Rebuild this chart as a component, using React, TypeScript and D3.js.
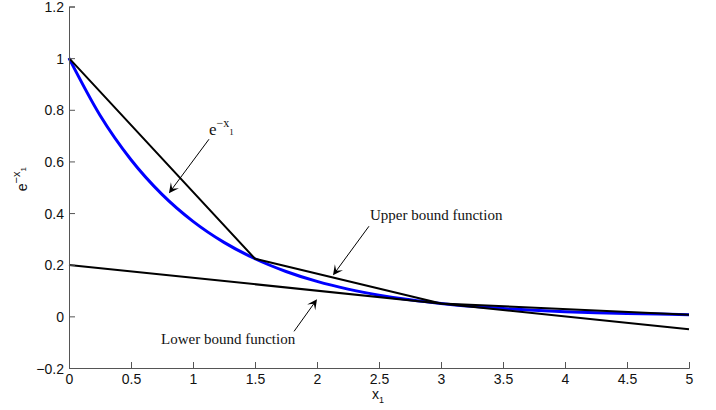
import React, { useEffect, useRef } from "react";
import * as d3 from "d3";

// e^{-x1} samples
const curveX = [0, 0.25, 0.5, 0.75, 1, 1.25, 1.5, 1.75, 2, 2.25, 2.5, 2.75, 3, 3.25, 3.5, 3.75, 4, 4.25, 4.5, 4.75, 5];
const curveY = [1, 0.7788, 0.6065, 0.4724, 0.3679, 0.2865, 0.2231, 0.1738, 0.1353, 0.1054, 0.0821, 0.0639, 0.0498, 0.0388, 0.0302, 0.0235, 0.0183, 0.0143, 0.0111, 0.0087, 0.0067];

// upper bound (piecewise linear through the break points)
const upperX = [0, 1.5, 3, 5];
const upperY = [1, 0.2231, 0.0498, 0.0067];

// lower bound (tangent at x1 = 3)
const lowerX = [0, 5];
const lowerY = [0.1991, -0.0498];

const xTicks = [0, 0.5, 1, 1.5, 2, 2.5, 3, 3.5, 4, 4.5, 5];
const yTicks = [-0.2, 0, 0.2, 0.4, 0.6, 0.8, 1, 1.2];

// annotations: text anchor and arrow from -> tip, all in data units
const annoText = ["Upper bound function", "Lower bound function"];
const annoTextPos = [[2.427, 0.372], [0.742, -0.1085]];
const arrowFrom = [[1.129, 0.686], [2.419, 0.349], [1.815, -0.058]];
const arrowTip = [[0.806, 0.477], [2.129, 0.159], [2.0, 0.066]];
const expLabelPos = [1.129, 0.7016];

export default function App() {
  const ref = useRef<SVGSVGElement>(null);

  useEffect(() => {
    const width = 716, height = 410;
    const margin = { top: 6.5, right: 27, bottom: 42, left: 69 };

    const svg = d3.select(ref.current);
    svg.selectAll("*").remove();

    const x = d3.scaleLinear().domain([0, 5]).range([margin.left, width - margin.right]);
    const y = d3.scaleLinear().domain([-0.2, 1.2]).range([height - margin.bottom, margin.top]);

    const sans = "Liberation Sans, Arial, sans-serif";
    const serif = "Liberation Serif, Times New Roman, serif";

    const line = d3.line<[number, number]>().x(d => x(d[0])).y(d => y(d[1]));

    // blue curve first, black lines on top
    svg.append("path")
      .attr("d", line.curve(d3.curveMonotoneX)(curveX.map((v, i) => [v, curveY[i]] as [number, number])))
      .attr("fill", "none")
      .attr("stroke", "#0000ff")
      .attr("stroke-width", 3);

    const straight = d3.line<[number, number]>().x(d => x(d[0])).y(d => y(d[1]));
    svg.append("path")
      .attr("d", straight(upperX.map((v, i) => [v, upperY[i]] as [number, number])))
      .attr("fill", "none")
      .attr("stroke", "#000")
      .attr("stroke-width", 2)
      .attr("stroke-linejoin", "round");
    svg.append("path")
      .attr("d", straight(lowerX.map((v, i) => [v, lowerY[i]] as [number, number])))
      .attr("fill", "none")
      .attr("stroke", "#000")
      .attr("stroke-width", 2);

    // axes (MATLAB style, no box, ticks inside)
    const xAxis = d3.axisBottom(x).tickValues(xTicks).tickSize(-6).tickPadding(6).tickFormat(d => String(d));
    const yAxis = d3.axisLeft(y).tickValues(yTicks).tickSize(-6).tickPadding(5)
      .tickFormat(d => (d as number) < 0 ? "\u2212" + String(-(d as number)) : String(d));

    const gx = svg.append("g").attr("transform", `translate(0,${y(-0.2)})`).call(xAxis);
    const gy = svg.append("g").attr("transform", `translate(${x(0)},0)`).call(yAxis);
    [gx, gy].forEach(g => {
      g.select(".domain").attr("stroke", "#555").attr("stroke-width", 1);
      g.selectAll(".tick line").attr("stroke", "#555");
      g.selectAll(".tick text").attr("fill", "#111").style("font-size", "14px").style("font-family", sans);
    });
    gy.selectAll(".tick text").attr("dy", "0.36em");

    // axis labels
    const xl = svg.append("text")
      .attr("x", x(2.5) - 7)
      .attr("y", 399)
      .style("font-family", sans)
      .style("font-size", "14px")
      .attr("fill", "#111");
    xl.append("tspan").text("x");
    xl.append("tspan").attr("dy", 4).style("font-size", "9px").text("1");

    const yl = svg.append("text")
      .attr("transform", `translate(27,${y(0.5) + 4}) rotate(-90)`)
      .style("font-family", sans)
      .style("font-size", "14px")
      .attr("fill", "#111");
    yl.append("tspan").text("e");
    yl.append("tspan").attr("dy", -7).style("font-size", "11px").text("\u2212x");
    yl.append("tspan").attr("dy", 6).style("font-size", "8px").text("1");

    // annotations
    annoText.forEach((t, i) => {
      svg.append("text")
        .attr("x", x(annoTextPos[i][0]))
        .attr("y", y(annoTextPos[i][1]))
        .style("font-family", serif)
        .style("font-size", "15px")
        .attr("fill", "#111")
        .text(t);
    });

    const el = svg.append("text")
      .attr("x", x(expLabelPos[0]))
      .attr("y", y(expLabelPos[1]))
      .style("font-family", serif)
      .style("font-size", "17px")
      .attr("fill", "#111");
    el.append("tspan").text("e");
    el.append("tspan").attr("dy", -8).style("font-size", "12px").text("\u2212x");
    el.append("tspan").attr("dy", 8).style("font-size", "9px").text("1");

    arrowFrom.forEach((f, i) => {
      const x1 = x(f[0]), y1 = y(f[1]);
      const x2 = x(arrowTip[i][0]), y2 = y(arrowTip[i][1]);
      const len = Math.hypot(x2 - x1, y2 - y1);
      const ux = (x2 - x1) / len, uy = (y2 - y1) / len;
      const nx = -uy, ny = ux;
      const L = 10, W = 5;
      svg.append("line")
        .attr("x1", x1).attr("y1", y1)
        .attr("x2", x2 - ux * 4).attr("y2", y2 - uy * 4)
        .attr("stroke", "#000")
        .attr("stroke-width", 1);
      const pts = [
        [x2, y2],
        [x2 - L * ux + W * nx, y2 - L * uy + W * ny],
        [x2 - 0.55 * L * ux, y2 - 0.55 * L * uy],
        [x2 - L * ux - W * nx, y2 - L * uy - W * ny],
      ];
      svg.append("path")
        .attr("d", "M" + pts.map(p => p.join(",")).join("L") + "Z")
        .attr("fill", "#000");
    });
  }, []);

  return (
    <svg ref={ref} width={716} height={410}
      style={{ position: "absolute", left: 0, top: 0, background: "#fff" }} />
  );
}
